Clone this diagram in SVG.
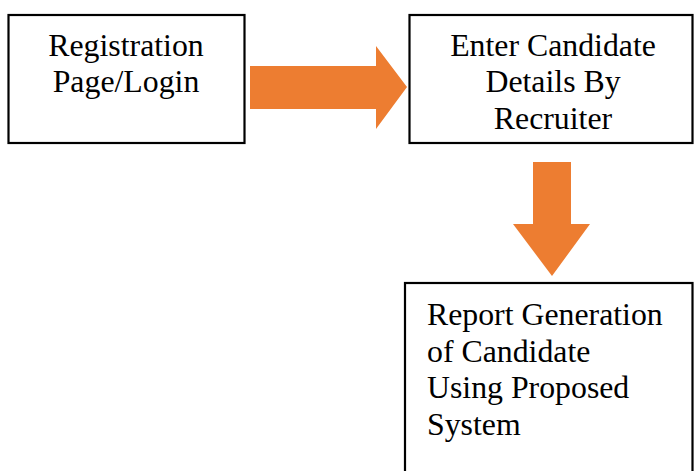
<svg xmlns="http://www.w3.org/2000/svg" width="694" height="471" viewBox="0 0 694 471">
  <style>
    .box { fill: #ffffff; stroke: #000000; stroke-width: 2.2; }
    .lbl { font-family: "Liberation Serif", "Times New Roman", serif; font-size: 31.8px; fill: #000000; }
    .mid { text-anchor: middle; }
    .flow { fill: #ED7D31; stroke: none; }
  </style>
  <rect width="694" height="471" fill="#ffffff"/>

  <g id="node-registration">
    <rect class="box" x="8.5" y="15" width="236" height="128"/>
    <text class="lbl mid" x="126" y="56">Registration</text>
    <text class="lbl mid" x="126" y="92">Page/Login</text>
  </g>

  <g id="node-enter-details">
    <rect class="box" x="409.5" y="15" width="283" height="128"/>
    <text class="lbl mid" x="553" y="56">Enter Candidate</text>
    <text class="lbl mid" x="553" y="92">Details By</text>
    <text class="lbl mid" x="553" y="129">Recruiter</text>
  </g>

  <g id="node-report">
    <rect class="box" x="405" y="283" width="287.5" height="200"/>
    <text class="lbl" x="427" y="325">Report Generation</text>
    <text class="lbl" x="427" y="362">of Candidate</text>
    <text class="lbl" x="427" y="398">Using Proposed</text>
    <text class="lbl" x="427" y="435">System</text>
  </g>

  <g id="connectors">
    <polygon class="flow" points="250,66 376,66 376,46 407,87 376,129 376,109 250,109"/>
    <polygon class="flow" points="533,162 571,162 571,224 590,224 552,276 513,224 533,224"/>
  </g>
</svg>
